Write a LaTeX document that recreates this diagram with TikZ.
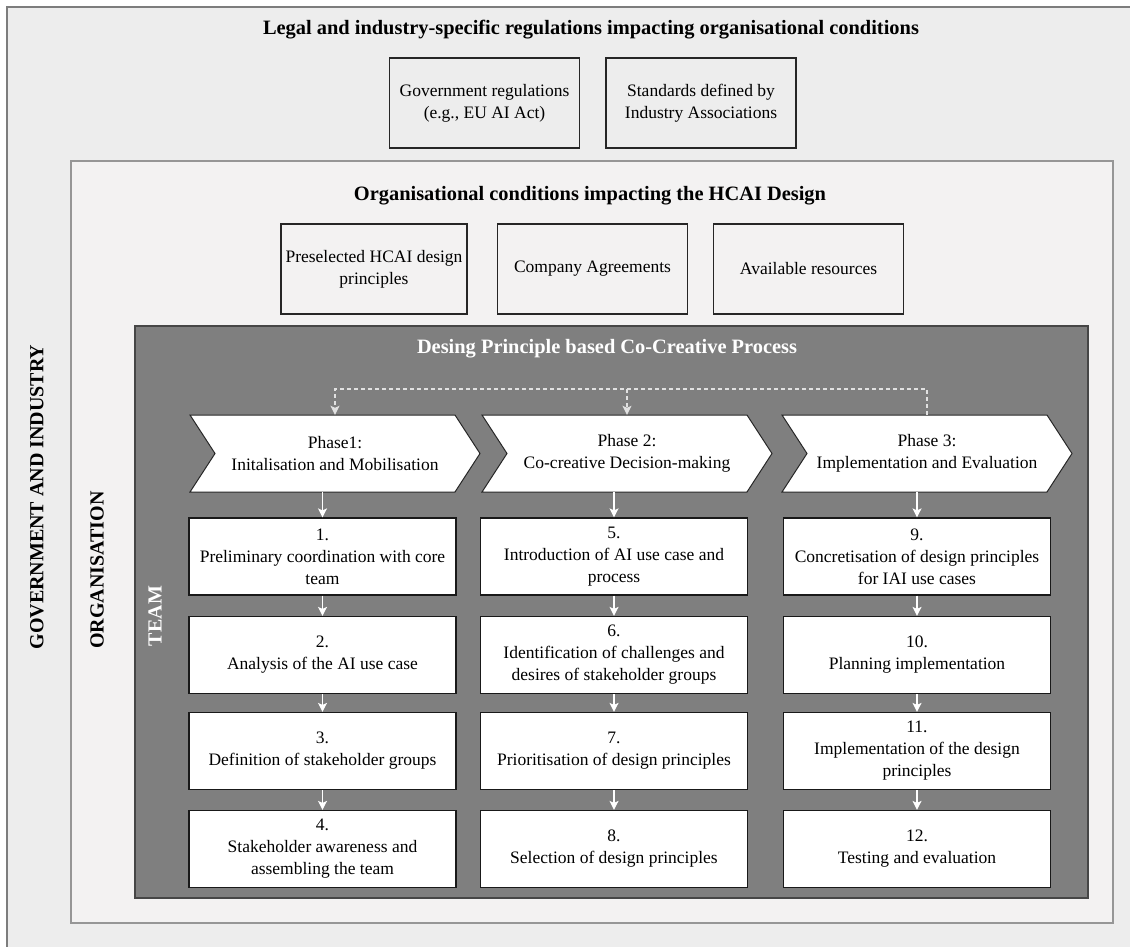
\documentclass[tikz,border=0pt]{standalone}
\usepackage{fontspec}
\setmainfont{Liberation Serif}
\usetikzlibrary{arrows.meta,calc}

\definecolor{outerbg}{RGB}{237,237,237}
\definecolor{orgbg}{RGB}{243,242,242}
\definecolor{teambg}{RGB}{127,127,127}
\definecolor{outerline}{RGB}{125,125,125}
\definecolor{orgline}{RGB}{150,150,150}
\definecolor{teamline}{RGB}{70,70,70}
\definecolor{dashcol}{RGB}{225,225,225}

\begin{document}
\begin{tikzpicture}[x=1pt,y=-1pt,
  txt/.style={font=\fontsize{17.5}{22}\selectfont, align=center},
  headline/.style={font=\fontsize{20.4}{24}\selectfont\bfseries},
  sidelabel/.style={font=\fontsize{20}{24}\selectfont\bfseries, rotate=90},
  infobox/.style={txt, draw=black!85, line width=1.3pt, minimum width=190pt, minimum height=90pt, inner sep=2pt},
  stepbox/.style={txt, draw=black!90, fill=white, line width=1.2pt, minimum width=267pt, minimum height=77pt, inner sep=2pt},
  phasebox/.style={txt, minimum width=240pt, minimum height=77pt, inner sep=0pt},
  chev/.style={draw=black!85, fill=white, line width=1pt, line join=miter},
  flow/.style={white, line width=1.3pt, -{Stealth[length=9pt,width=9pt,inset=2pt]}},
  dashflow/.style={dashcol, line width=1.2pt, dash pattern=on 4pt off 3pt},
  dashtip/.style={-{Stealth[length=9pt,width=9pt,inset=2pt]}},
]
\useasboundingbox (0,0) rectangle (1130,947);
\fill[white] (0,0) rectangle (1130,947);

% nested frames: government and industry, organisation, team
\draw[fill=outerbg, draw=outerline, line width=2.5pt] (7,7) rectangle (1145,965);
\draw[fill=orgbg, draw=orgline, line width=1.5pt] (71,161) rectangle (1113,923);
\draw[fill=teambg, draw=teamline, line width=1.2pt] (135,326) rectangle (1088,898);

% headlines
\node[headline] (legal) at (591,30) {Legal and industry-specific regulations impacting organisational conditions};
\node[headline] (orgcond) at (590,196) {Organisational conditions impacting the HCAI Design};
\node[headline, white] (process) at (607,349) {Desing Principle based Co-Creative Process};

% side labels
\node[sidelabel] (gov) at (37,497) {GOVERNMENT AND INDUSTRY};
\node[sidelabel] (org) at (97,570) {ORGANISATION};
\node[sidelabel, white] (team) at (155,616) {TEAM};

% regulation boxes
\node[infobox] (govreg) at (484.5,103) {Government regulations\\(e.g., EU AI Act)};
\node[infobox] (stand) at (701,103) {Standards defined by\\Industry Associations};

% organisational condition boxes
\node[infobox, minimum width=186pt] (presel) at (374,269) {Preselected HCAI design\\principles};
\node[infobox] (agree) at (592.5,269) {Company Agreements};
\node[infobox] (resou) at (808.5,269) {Available resources};

% phase chevrons
\foreach \cx in {335,627,927}
  \draw[chev] ({\cx-145},415) -- ({\cx+120},415) -- ({\cx+145},453.5) -- ({\cx+120},492)
              -- ({\cx-145},492) -- ({\cx-120},453.5) -- cycle;
\node[phasebox] (ph1) at (335,453.5) {Phase1:\\Initalisation and Mobilisation};
\node[phasebox] (ph2) at (627,453.5) {Phase 2:\\Co-creative Decision-making};
\node[phasebox] (ph3) at (927,453.5) {Phase 3:\\Implementation and Evaluation};

% process steps
\node[stepbox] (s1) at (322.5,556.5) {1.\\Preliminary coordination with core\\team};
\node[stepbox] (s2) at (322.5,655) {2.\\Analysis of the AI use case};
\node[stepbox] (s3) at (322.5,751) {3.\\Definition of stakeholder groups};
\node[stepbox] (s4) at (322.5,849) {4.\\Stakeholder awareness and\\assembling the team};

\node[stepbox] (s5) at (614,556.5) {5.\\Introduction of AI use case and\\process};
\node[stepbox] (s6) at (614,655) {6.\\Identification of challenges and\\desires of stakeholder groups};
\node[stepbox] (s7) at (614,751) {7.\\Prioritisation of design principles};
\node[stepbox] (s8) at (614,849) {8.\\Selection of design principles};

\node[stepbox] (s9) at (917,556.5) {9.\\Concretisation of design principles\\for IAI use cases};
\node[stepbox] (s10) at (917,655) {10.\\Planning implementation};
\node[stepbox] (s11) at (917,751) {11.\\Implementation of the design\\principles};
\node[stepbox] (s12) at (917,849) {12.\\Testing and evaluation};

% feedback loop over the phases
\coordinate (dl) at (335,389);
\coordinate (dr) at (927,389);
\draw[dashflow, dashtip] (ph3.north) -- (dr) -- (dl) -- (ph1.north);
\draw[dashflow, dashtip] (ph2.north |- dl) -- (ph2.north);

% flow from phases into steps
\draw[flow] (ph1.south -| s1.north) -- (s1.north);
\draw[flow] (ph2.south -| s5.north) -- (s5.north);
\draw[flow] (ph3.south -| s9.north) -- (s9.north);

\foreach \a/\b in {s1/s2,s2/s3,s3/s4,s5/s6,s6/s7,s7/s8,s9/s10,s10/s11,s11/s12}
  \draw[flow] (\a.south) -- (\b.north);

\end{tikzpicture}
\end{document}
